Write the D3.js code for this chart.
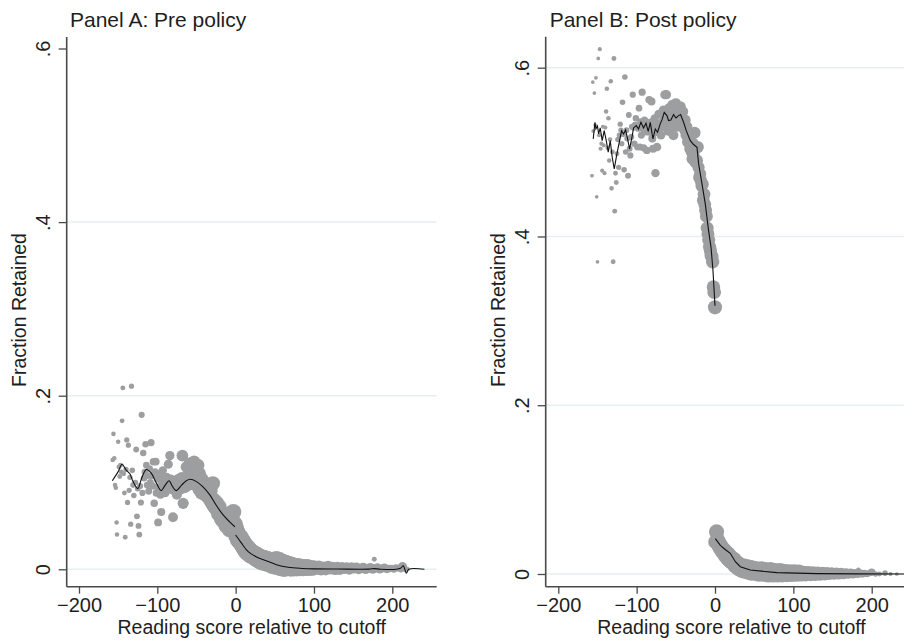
<!DOCTYPE html>
<html>
<head>
<meta charset="utf-8">
<script src="https://cdnjs.cloudflare.com/ajax/libs/d3/7.8.5/d3.min.js"></script>
<style>
  body { margin: 0; background: #fff; }
  svg { display: block; }
  text { font-family: "Liberation Sans", Arial, sans-serif; fill: #1e1e1e; }
</style>
</head>
<body>
<svg width="904" height="641"></svg>
<script>
// ---- data: [reading score relative to cutoff, fraction retained, number of students]
var preDots = [
  [-157,0.126,6],[-156,0.156,6],[-155,0.128,6],[-154,0.097,6],[-153,0.094,6],[-152,0.054,6],[-151.5,0.040,6],[-150,0.147,6],
  [-149,0.118,7],[-148,0.107,7],[-147,0.120,7],[-146,0.112,7],[-145,0.171,7],[-144,0.209,7],[-143,0.110,7],[-142,0.088,7],
  [-141,0.037,7],[-140,0.115,8],[-139,0.149,8],[-138,0.077,8],[-137,0.143,8],[-136,0.091,8],[-135,0.106,8],[-134,0.052,8],
  [-133,0.211,8],[-132,0.114,9],[-131,0.097,9],[-130,0.085,9],[-128,0.100,9],[-127,0.138,10],[-126,0.061,10],[-125,0.093,10],
  [-124,0.050,10],[-123,0.040,10],[-122,0.096,11],[-121,0.077,11],[-120,0.178,11],[-119,0.088,11],[-118,0.134,12],[-117,0.105,12],
  [-116,0.112,12],[-115,0.144,12],[-114,0.120,13],[-113,0.097,13],[-112,0.108,13],[-111,0.090,14],[-110,0.116,14],[-109,0.100,14],
  [-108,0.146,15],[-107,0.108,15],[-106,0.096,15],[-105,0.124,16],[-104,0.076,16],[-103,0.112,16],[-102,0.124,17],[-101,0.088,17],
  [-100,0.104,17],[-99,0.054,18],[-98,0.094,18],[-97,0.110,19],[-96,0.086,19],[-95,0.066,19],[-94,0.098,20],[-93,0.114,20],
  [-92,0.092,21],[-91,0.104,21],[-90,0.088,22],[-89,0.100,22],[-88,0.106,23],[-87,0.094,23],[-86,0.121,24],[-85,0.098,24],
  [-84,0.131,25],[-83,0.104,25],[-82,0.092,26],[-81,0.100,26],[-80,0.060,28],[-79,0.094,27],[-78,0.102,28],[-77,0.090,28],
  [-76,0.098,29],[-75,0.086,29],[-74,0.094,30],[-73,0.104,31],[-72,0.096,31],[-71,0.092,32],[-70,0.100,33],[-69,0.106,33],
  [-68,0.131,40],[-67,0.076,36],[-66,0.098,35],[-65,0.094,35],[-64,0.102,36],[-63,0.118,37],[-62,0.096,37],[-61,0.104,38],
  [-60,0.112,39],[-59,0.122,39],[-58,0.100,40],[-57,0.108,41],[-56,0.118,41],[-55,0.098,42],[-54,0.108,43],[-53,0.124,43],
  [-52,0.104,44],[-51,0.114,45],[-50,0.097,45],[-49,0.112,46],[-48,0.120,47],[-47,0.092,47],[-46,0.110,48],[-45,0.100,49],
  [-44,0.088,49],[-43,0.104,50],[-42,0.098,51],[-41,0.090,51],[-40,0.100,52],[-39,0.086,53],[-38,0.096,53],[-37,0.092,54],
  [-36,0.084,55],[-35,0.094,55],[-34,0.088,56],[-33,0.080,57],[-32,0.090,57],[-31,0.082,58],[-30,0.076,59],[-29,0.099,59],
  [-28,0.080,60],[-27,0.072,61],[-26,0.078,61],[-25,0.070,62],[-24,0.076,63],[-23,0.068,63],[-22,0.064,64],[-21,0.072,65],
  [-20,0.062,65],[-19,0.066,66],[-18,0.058,66],[-17,0.064,67],[-16,0.056,67],[-15,0.062,68],[-14,0.054,68],[-13,0.060,69],
  [-12,0.050,69],[-11,0.058,70],[-10,0.052,70],[-9,0.056,71],[-8,0.046,71],[-7,0.054,72],[-6,0.050,72],[-5,0.058,73],
  [-4,0.046,73],[-3,0.066,74],[-2,0.048,74],[-1,0.052,75],
  [0,0.048,76],[1,0.038,77],[2,0.043,77],[3,0.034,78],[4,0.039,78],[5,0.032,79],[6,0.037,79],[7,0.030,80],
  [8,0.034,80],[9,0.027,80],[10,0.031,80],[11,0.024,80],[12,0.028,80],[13,0.021,80],[14,0.026,80],[15,0.019,80],
  [16,0.024,80],[17,0.018,80],[18,0.022,80],[19,0.016,80],[20,0.020,80],[22,0.015,80],[24,0.018,80],[26,0.012,80],
  [28,0.016,80],[30,0.010,80],[32,0.014,79],[34,0.008,79],[36,0.013,78],[38,0.007,78],[40,0.012,77],[42,0.006,76],
  [44,0.011,76],[46,0.004,75],[48,0.010,74],[50,0.003,73],[52,0.012,72],[54,0.002,71],[56,0.011,70],[58,0.001,69],
  [60,0.009,68],[62,0.000,67],[64,0.008,66],[66,0.001,65],[68,0.007,64],[70,0.000,63],[72,0.006,62],[74,0.000,61],
  [76,0.005,60],[78,0.000,59],[80,0.005,58],[82,0.000,57],[84,0.004,56],[86,0.000,55],[88,0.004,54],[90,0.000,53],
  [92,0.004,52],[94,0.000,51],[96,0.003,50],[98,0.000,49],[100,0.003,48],[103,0.001,47],[106,0.003,46],[109,0.000,45],
  [112,0.002,44],[115,0.000,43],[118,0.003,42],[121,0.001,41],[124,0.002,40],[127,0.000,39],[130,0.002,38],[133,0.000,37],
  [136,0.002,36],[139,0.001,35],[142,0.002,34],[145,0.000,33],[148,0.002,32],[151,0.001,31],[154,0.002,30],[157,0.000,29],
  [160,0.001,28],[163,0.002,27],[166,0.000,26],[169,0.001,25],[172,0.002,24],[175,0.000,23],[177,0.0115,7],[178,0.001,22],
  [181,0.002,21],[184,0.000,20],[187,0.001,19],[190,0.002,18],[193,0.000,17],[196,0.001,16],[199,0.001,15],[202,0.000,14],
  [205,0.002,13],[208,0.001,12],[211,0.000,11],[213,0.003,25],[216,0.000,9],[219,0.000,7]
];

var postDots = [
  [-157,0.472,4],[-156,0.583,4],[-155.5,0.525,4],[-154,0.570,4],[-153,0.532,4],[-152,0.588,4],[-151,0.447,4],[-150,0.370,4],
  [-149,0.611,4],[-148,0.520,5],[-147,0.622,5],[-146,0.504,5],[-145,0.510,5],[-144,0.478,5],[-143,0.530,5],[-142,0.508,5],
  [-141,0.475,5],[-140,0.529,5],[-139,0.548,6],[-138,0.575,6],[-137,0.505,6],[-136,0.540,6],[-135,0.490,6],[-134,0.515,6],
  [-133,0.584,6],[-132,0.457,6],[-131,0.500,7],[-130,0.370,7],[-129,0.611,7],[-128,0.430,7],[-127,0.475,7],[-126,0.464,7],
  [-125,0.498,7],[-124,0.515,8],[-123,0.482,8],[-122,0.520,8],[-121,0.533,8],[-120,0.526,8],[-119,0.510,8],[-118,0.559,9],
  [-117,0.521,9],[-116,0.479,9],[-115,0.589,9],[-114,0.500,9],[-113,0.526,10],[-112,0.516,10],[-111,0.472,10],[-110,0.544,10],
  [-109,0.504,10],[-108,0.496,11],[-107,0.518,11],[-106,0.530,11],[-105,0.568,11],[-104,0.529,12],[-103,0.510,12],[-102,0.532,12],
  [-101,0.540,12],[-100,0.530,13],[-99,0.506,13],[-98,0.528,13],[-97,0.552,13],[-96,0.506,14],[-95,0.536,14],[-94,0.520,14],
  [-93,0.571,15],[-92,0.528,15],[-91,0.505,15],[-90,0.538,15],[-89,0.524,16],[-88,0.530,16],[-87,0.502,16],[-86,0.534,17],
  [-85,0.524,17],[-84,0.562,17],[-83,0.528,18],[-82,0.535,18],[-81,0.560,18],[-80,0.516,19],[-79,0.504,19],[-78,0.527,19],
  [-77,0.540,20],[-76,0.475,20],[-75,0.524,20],[-74,0.506,21],[-73,0.532,21],[-72,0.545,21],[-71,0.528,22],[-70,0.534,22],
  [-69,0.520,22],[-68,0.545,23],[-67,0.530,23],[-66,0.550,23],[-65,0.540,24],[-64,0.568,24],[-63,0.530,24],[-62,0.568,25],
  [-61,0.542,25],[-60,0.525,25],[-59,0.552,26],[-58,0.536,26],[-57,0.548,26],[-56,0.530,27],[-55,0.556,27],[-54,0.540,27],
  [-53,0.520,28],[-52,0.550,28],[-51,0.535,29],[-50,0.558,29],[-49,0.542,29],[-48,0.530,30],[-47,0.554,30],[-46,0.545,31],
  [-45,0.538,31],[-44,0.554,32],[-43,0.544,32],[-42,0.536,33],[-41,0.548,33],[-40,0.530,34],[-39,0.526,34],[-38,0.538,35],
  [-37,0.520,35],[-36,0.530,36],[-35,0.512,36],[-34,0.524,37],[-33,0.515,37],[-32,0.504,38],[-31,0.518,38],[-30,0.500,39],
  [-29,0.492,39],[-28,0.510,40],[-27,0.496,40],[-26,0.523,41],[-25,0.488,41],[-24,0.505,42],[-23,0.490,42],[-22,0.506,43],
  [-21,0.482,43],[-20,0.470,44],[-19,0.474,44],[-18,0.466,45],[-17,0.460,45],[-16,0.462,46],[-15,0.443,46],[-14,0.450,47],
  [-13,0.438,47],[-12,0.431,48],[-11,0.424,48],[-10,0.410,49],[-9,0.403,49],[-8,0.396,50],[-7,0.388,50],[-6,0.384,51],
  [-5,0.378,51],[-4,0.376,52],[-3,0.370,52],[-2,0.340,53],[-1,0.334,54],[0,0.316,58],
  [0.5,0.038,60],[2,0.050,66],[3,0.036,60],[4,0.040,60],[5,0.033,62],[6,0.036,62],[7,0.030,63],[8,0.033,63],
  [9,0.027,64],[10,0.030,64],[11,0.025,65],[12,0.028,65],[13,0.022,66],[14,0.026,66],[15,0.020,67],[16,0.024,67],
  [17,0.018,68],[18,0.022,68],[19,0.016,69],[20,0.020,69],[22,0.014,70],[24,0.017,71],[26,0.010,72],[28,0.013,73],
  [30,0.007,74],[32,0.010,75],[34,0.005,76],[36,0.009,77],[38,0.004,78],[40,0.008,79],[42,0.003,80],[44,0.007,81],
  [46,0.002,82],[48,0.006,82],[50,0.002,83],[53,0.005,84],[56,0.001,85],[59,0.005,85],[62,0.001,86],[65,0.004,86],
  [68,0.000,86],[71,0.004,86],[74,0.000,85],[77,0.003,85],[80,0.000,84],[83,0.003,83],[86,0.000,82],[89,0.002,81],
  [92,0.000,79],[95,0.002,77],[98,0.000,75],[101,0.002,73],[104,0.000,71],[107,0.002,69],[110,0.000,67],[113,0.001,65],
  [116,0.000,63],[119,0.001,61],[122,0.000,59],[125,0.001,57],[128,0.000,55],[131,0.001,53],[134,0.000,51],[137,0.001,49],
  [140,0.000,47],[143,0.001,45],[146,0.000,43],[149,0.001,41],[152,0.000,39],[155,0.001,37],[158,0.000,35],[161,0.001,33],
  [164,0.000,31],[167,0.001,29],[170,0.000,27],[173,0.001,25],[176,0.000,23],[179,0.001,21],[182,0.000,19],[183,0.005,6],
  [185,0.001,17],[188,0.000,15],[191,0.001,13],[194,0.000,12],[197,0.001,11],[200,0.002,16],[205,0.000,8],[210,0.000,7],
  [217,0.001,9],[224,0.000,5],[232,0.000,4]
];

// local fit lines, left and right of the cutoff
var preFitLeft = [
  [-157.5,0.102],[-150,0.1125],[-145,0.121],[-140,0.1145],[-135,0.110],[-131,0.101],[-125,0.093],[-120,0.105],
  [-114,0.115],[-108,0.111],[-101,0.099],[-95,0.0906],[-90,0.097],[-85,0.102],[-81,0.096],[-76,0.0906],
  [-69,0.097],[-63,0.102],[-58,0.1037],[-50,0.101],[-42,0.0952],[-33,0.0857],[-25,0.074],[-16,0.0626],
  [-8,0.0549],[-1,0.049]
];
var preFitRight = [
  [0,0.0395],[7,0.0307],[16,0.0203],[26,0.0145],[39,0.0099],[52,0.0053],[67,0.0023],[85,0.001],
  [100,0.0005],[130,0.0003],[170,0.0002],[177,0.0008],[185,0.0001],[205,0.0],[211,0.0015],[214,0.004],
  [218,-0.0045],[221,0.0],[241,0.0]
];
var postFitLeft = [
  [-155.4,0.5156],[-153.2,0.5353],[-152,0.5275],[-150,0.531],[-148.5,0.5215],[-146.5,0.5286],[-144,0.5136],[-141.4,0.5254],
  [-138.8,0.5136],[-136.3,0.4998],[-133.7,0.5136],[-131.2,0.4939],[-128.6,0.4801],[-125.2,0.4978],[-121.8,0.5136],[-119.2,0.5254],
  [-116.7,0.5215],[-114.1,0.5262],[-111.6,0.5156],[-109,0.5038],[-106,0.5175],[-104,0.5286],[-100.5,0.5314],[-97.6,0.5274],
  [-94.5,0.5353],[-91.2,0.5286],[-88.1,0.5341],[-85.2,0.5246],[-82.6,0.5353],[-79.2,0.5156],[-76.2,0.5274],[-73.3,0.5235],
  [-69.9,0.5334],[-67.7,0.5381],[-64.8,0.5471],[-61.3,0.5432],[-59.3,0.5373],[-56.3,0.5381],[-52.9,0.5444],[-49.8,0.5404],
  [-46.5,0.5432],[-43.9,0.5444],[-40.1,0.5353],[-36.7,0.5254],[-31.5,0.5136],[-27.3,0.509],[-23,0.5057],[-20.9,0.486],
  [-16.6,0.4623],[-12.4,0.4387],[-8.2,0.407],[-5.1,0.3874],[-2.6,0.3598],[0,0.318]
];
var postFitRight = [
  [0.4,0.042],[6.8,0.034],[13,0.029],[19.5,0.0245],[26,0.0146],[32.3,0.0087],[45,0.0047],[79,0.0016],
  [130,0.0005],[180,0.0001],[242,0.0]
];

var xTicks = [-200, -100, 0, 100, 200];
var yTicks = [0, 0.2, 0.4, 0.6];

var svg = d3.select("svg");
var dotColor = "#9d9ea0";
var axisColor = "#4a4a4a";
var gridColor = "#e6eff2";

// marker area proportional to count
var size = d3.scaleSqrt().domain([0, 100]).range([0, 9.3]);

function fmtY(d) { return d === 0 ? "0" : d3.format(".1f")(d).replace(/^0/, ""); }

function drawPanel(p) {
  var x = d3.scaleLinear().domain([-200, 200]).range(p.xr);
  var y = d3.scaleLinear().domain([0, 0.6]).range(p.yr);
  var g = svg.append("g");

  // grid lines
  g.selectAll(".grid").data(p.grid).enter().append("line")
    .attr("x1", p.left).attr("x2", p.right)
    .attr("y1", function (d) { return y(d); }).attr("y2", function (d) { return y(d); })
    .attr("stroke", gridColor).attr("stroke-width", 1.5);

  // dots
  g.append("g").selectAll("circle").data(p.dots).enter().append("circle")
    .attr("cx", function (d) { return x(d[0]); })
    .attr("cy", function (d) { return y(d[1]); })
    .attr("r", function (d) { return size(d[2]); })
    .attr("fill", dotColor);

  // fitted lines
  var line = d3.line()
    .x(function (d) { return x(d[0]); })
    .y(function (d) { return y(d[1]); })
    .curve(p.curve);
  p.fits.forEach(function (f) {
    g.append("path").datum(f).attr("d", line)
      .attr("fill", "none").attr("stroke", "#111").attr("stroke-width", 1.1);
  });

  // x axis
  var xa = g.append("g").attr("transform", "translate(0," + p.bottom + ")")
    .call(d3.axisBottom(x).tickValues(xTicks).tickSize(7).tickPadding(4.6).tickFormat(d3.format("d")));
  xa.select(".domain").remove();
  xa.selectAll(".tick line").attr("stroke", axisColor).attr("stroke-width", 1.3);
  xa.selectAll("text").attr("font-size", 20).attr("fill", "#1e1e1e");
  g.append("line").attr("x1", p.left).attr("x2", p.right).attr("y1", p.bottom).attr("y2", p.bottom)
    .attr("stroke", axisColor).attr("stroke-width", 1.6);

  // y axis
  var ya = g.append("g").attr("transform", "translate(" + p.left + ",0)")
    .call(d3.axisLeft(y).tickValues(yTicks).tickSize(8).tickFormat(fmtY));
  ya.select(".domain").remove();
  ya.selectAll(".tick line").attr("stroke", axisColor).attr("stroke-width", 1.3);
  ya.selectAll("text")
    .attr("transform", "rotate(-90)")
    .attr("x", 0).attr("y", -16.7).attr("dy", 0)
    .style("text-anchor", "middle")
    .attr("font-size", 20).attr("fill", "#1e1e1e");
  g.append("line").attr("x1", p.left).attr("x2", p.left).attr("y1", p.top).attr("y2", p.bottom)
    .attr("stroke", axisColor).attr("stroke-width", 1.6);

  // titles
  g.append("text").attr("x", p.titleX).attr("y", 27).attr("font-size", 21).text(p.title);
  g.append("text").attr("x", p.xTitleX).attr("y", 634).attr("font-size", 19.5)
    .style("text-anchor", "middle").text("Reading score relative to cutoff");
  g.append("text").attr("transform", "translate(" + (p.left - 40.5) + ",310) rotate(-90)")
    .attr("font-size", 19.5).style("text-anchor", "middle").text("Fraction Retained");
}

drawPanel({
  title: "Panel A: Pre policy", titleX: 70, xTitleX: 251.7,
  left: 66.7, right: 436.7, top: 37, bottom: 586.7,
  xr: [79, 392.3], yr: [569.3, 48.5], grid: [0, 0.2, 0.4],
  dots: preDots, fits: [preFitLeft, preFitRight], curve: d3.curveCatmullRom
});

drawPanel({
  title: "Panel B: Post policy", titleX: 549.7, xTitleX: 731.5,
  left: 545.7, right: 904, top: 36.7, bottom: 586.7,
  xr: [558.3, 871.7], yr: [574, 67.7], grid: [0, 0.2, 0.4, 0.6],
  dots: postDots, fits: [postFitLeft, postFitRight], curve: d3.curveLinear
});
</script>
</body>
</html>
